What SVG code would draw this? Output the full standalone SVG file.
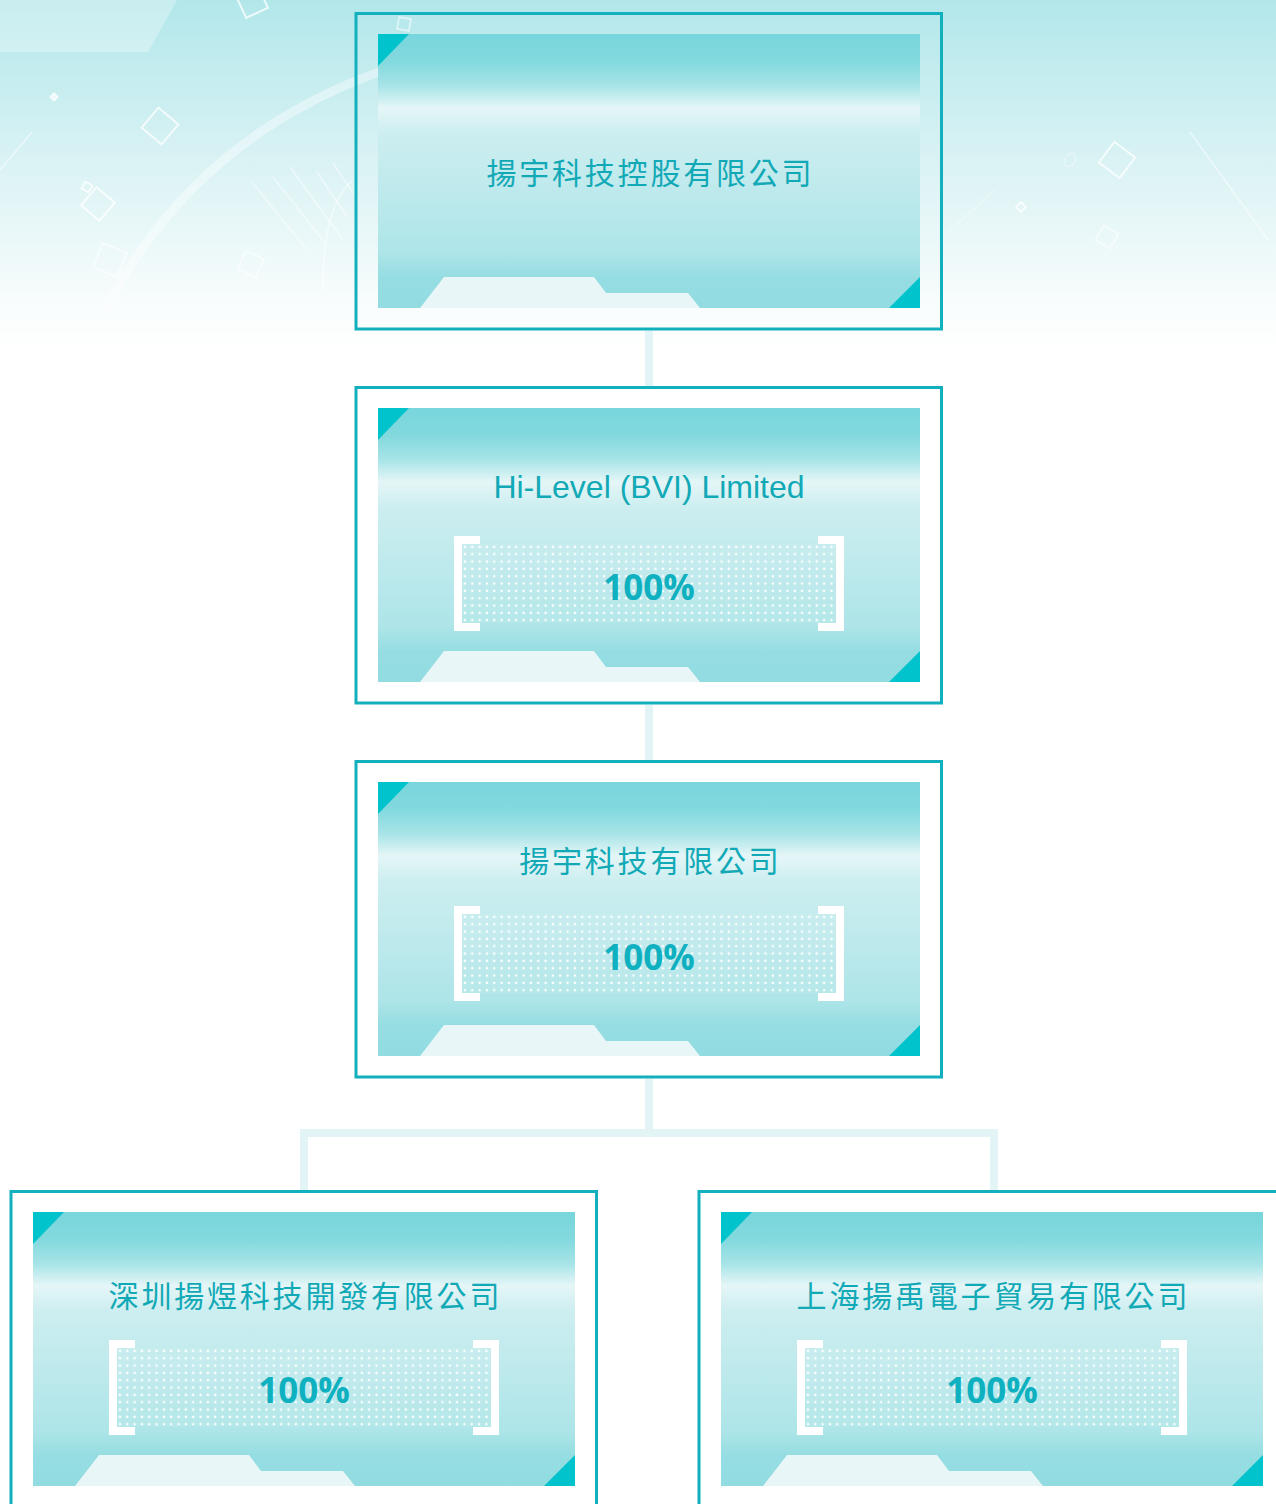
<svg xmlns="http://www.w3.org/2000/svg" xmlns:xlink="http://www.w3.org/1999/xlink" width="1276" height="1504" viewBox="0 0 1276 1504">
  <style>
    .frame{fill:none;stroke:#12afbd;stroke-width:3}
    .tri{fill:#00c3cc}
    .shelf{fill:#e8f6f7}
    .cn{font-family:"Noto Sans CJK TC","Noto Sans CJK SC",sans-serif;font-size:30px;fill:#12a9b7;letter-spacing:2.8px;text-anchor:middle}
    .en{font-family:"Liberation Sans",Arial,sans-serif;font-size:32px;fill:#12a9b7;text-anchor:middle}
    .pct{font-family:"Open Sans",sans-serif;font-weight:700;font-size:35px;fill:#0fb0bf;text-anchor:middle}
    .br{fill:#ffffff}
    .conn{fill:none;stroke:#e3f4f6;stroke-width:8}
    .deco{fill:none;stroke:#ffffff;stroke-width:2;stroke-opacity:0.75}
    .decol{fill:none;stroke:#ffffff;stroke-width:1.5;stroke-opacity:0.5}
  </style>
  <defs>
    <linearGradient id="bgGrad" x1="0" y1="0" x2="0" y2="1">
      <stop offset="0" stop-color="#b2e7ea"/>
      <stop offset="0.45" stop-color="#d9f2f4"/>
      <stop offset="0.85" stop-color="#f7fcfc"/>
      <stop offset="1" stop-color="#ffffff"/>
    </linearGradient>
    <linearGradient id="pg" x1="0" y1="0" x2="0" y2="1">
      <stop offset="0" stop-color="#78d6dc"/>
      <stop offset="0.1" stop-color="#82d9de"/>
      <stop offset="0.19" stop-color="#a8e4e7"/>
      <stop offset="0.27" stop-color="#e5f6f7"/>
      <stop offset="0.36" stop-color="#cdeef0"/>
      <stop offset="0.6" stop-color="#bce9ec"/>
      <stop offset="0.8" stop-color="#ade5e8"/>
      <stop offset="0.89" stop-color="#95dde2"/>
      <stop offset="1" stop-color="#92dce1"/>
    </linearGradient>
    <pattern id="dots" width="7.33" height="7.33" patternUnits="userSpaceOnUse">
      <circle cx="3.6" cy="3.6" r="1.3" fill="#ffffff" fill-opacity="0.95"/>
    </pattern>
    <g id="panel">
      <rect x="0" y="0" width="542" height="274" fill="url(#pg)"/>
      <path class="shelf" d="M42 274L66 243H216L228 259H310L322 274Z"/>
      <path class="tri" d="M0 0H31L0 32Z"/>
      <path class="tri" d="M542 243V274H511Z"/>
    </g>
    <g id="bracket">
      <rect x="8" y="8" width="374" height="79" fill="#ffffff" fill-opacity="0.08"/>
      <rect x="8" y="8" width="374" height="79" fill="url(#dots)"/>
      <path class="br" d="M0 0H26V8H8V87H26V95H0Z"/>
      <path class="br" d="M390 0H364V8H382V87H364V95H390Z"/>
    </g>
  </defs>

  <g id="background">
    <rect x="0" y="0" width="1276" height="1504" fill="#ffffff"/>
    <rect x="0" y="0" width="1276" height="350" fill="url(#bgGrad)"/>
    <path d="M0 0H177L148 52H0Z" fill="#ffffff" fill-opacity="0.3"/>
    <path d="M105 310Q195 135 390 68" fill="none" stroke="#ffffff" stroke-opacity="0.4" stroke-width="9"/>
    <g class="deco">
      <rect x="-13" y="-13" width="26" height="26" transform="translate(160,126) rotate(40)"/>
      <rect x="-12" y="-12" width="24" height="24" transform="translate(98,204) rotate(40)"/>
      <rect x="-4" y="-4" width="8" height="8" transform="translate(87,187) rotate(30)"/>
      <rect x="-13" y="-13" width="26" height="26" transform="translate(110,260) rotate(22)" stroke-opacity="0.5"/>
      <rect x="-10" y="-10" width="20" height="20" transform="translate(251,264) rotate(25)" stroke-opacity="0.5"/>
      <rect x="-12" y="-12" width="24" height="24" transform="translate(252,2) rotate(-25)"/>
      <rect x="-6" y="-6" width="12" height="12" transform="translate(404,24) rotate(10)" stroke-opacity="0.5"/>
      <rect x="-13" y="-13" width="26" height="26" transform="translate(1117,160) rotate(37)"/>
      <rect x="-3.5" y="-3.5" width="7" height="7" transform="translate(1021,207) rotate(45)"/>
      <rect x="-8.5" y="-8.5" width="17" height="17" transform="translate(1107,237) rotate(30)" stroke-opacity="0.5"/>
      <ellipse cx="1070" cy="160" rx="5" ry="7" transform="rotate(30 1070 160)" stroke-opacity="0.3"/>
      <rect x="-2.5" y="-2.5" width="5" height="5" transform="translate(54,97) rotate(45)" fill="#ffffff" fill-opacity="0.6"/>
    </g>
    <g class="decol">
      <path d="M0 170L32 132"/>
      <path d="M252 182L307 250"/>
      <path d="M273 177L325 243"/>
      <path d="M290 167L343 240"/>
      <path d="M317 172L347 217"/>
      <path d="M333 163L353 193"/>
      <path d="M323 293Q322 205 353 180"/>
      <path d="M1190 132L1268 240"/>
      <path d="M945 235L995 190" stroke-opacity="0.3"/>
    </g>
  </g>

  <g id="connectors">
    <path class="conn" d="M649 331V386"/>
    <path class="conn" d="M649 705V760"/>
    <path class="conn" d="M649 1079V1133"/>
    <path class="conn" d="M304 1190V1133H994V1190"/>
  </g>

  <g id="node-holding" transform="translate(378,34)">
    <rect class="frame" x="-22" y="-20.5" width="585.5" height="315.5"/>
    <use href="#panel" xlink:href="#panel"/>
    <text class="cn" x="272.4" y="150">揚宇科技控股有限公司</text>
  </g>

  <g id="node-bvi" transform="translate(378,408)">
    <rect class="frame" x="-22" y="-20.5" width="585.5" height="315.5"/>
    <use href="#panel" xlink:href="#panel"/>
    <text class="en" x="271" y="89.5">Hi-Level (BVI) Limited</text>
    <use href="#bracket" xlink:href="#bracket" x="76" y="128"/>
    <text class="pct" x="271" y="192">100%</text>
  </g>

  <g id="node-tech" transform="translate(378,782)">
    <rect class="frame" x="-22" y="-20.5" width="585.5" height="315.5"/>
    <use href="#panel" xlink:href="#panel"/>
    <text class="cn" x="272.4" y="90">揚宇科技有限公司</text>
    <use href="#bracket" xlink:href="#bracket" x="76" y="124"/>
    <text class="pct" x="271" y="188">100%</text>
  </g>

  <g id="node-shenzhen" transform="translate(33,1212)">
    <rect class="frame" x="-22" y="-20.5" width="585.5" height="315.5"/>
    <use href="#panel" xlink:href="#panel"/>
    <text class="cn" x="272.4" y="95">深圳揚煜科技開發有限公司</text>
    <use href="#bracket" xlink:href="#bracket" x="76" y="128"/>
    <text class="pct" x="271" y="191">100%</text>
  </g>

  <g id="node-shanghai" transform="translate(721,1212)">
    <rect class="frame" x="-22" y="-20.5" width="585.5" height="315.5"/>
    <use href="#panel" xlink:href="#panel"/>
    <text class="cn" x="272.4" y="95">上海揚禹電子貿易有限公司</text>
    <use href="#bracket" xlink:href="#bracket" x="76" y="128"/>
    <text class="pct" x="271" y="191">100%</text>
  </g>
</svg>
